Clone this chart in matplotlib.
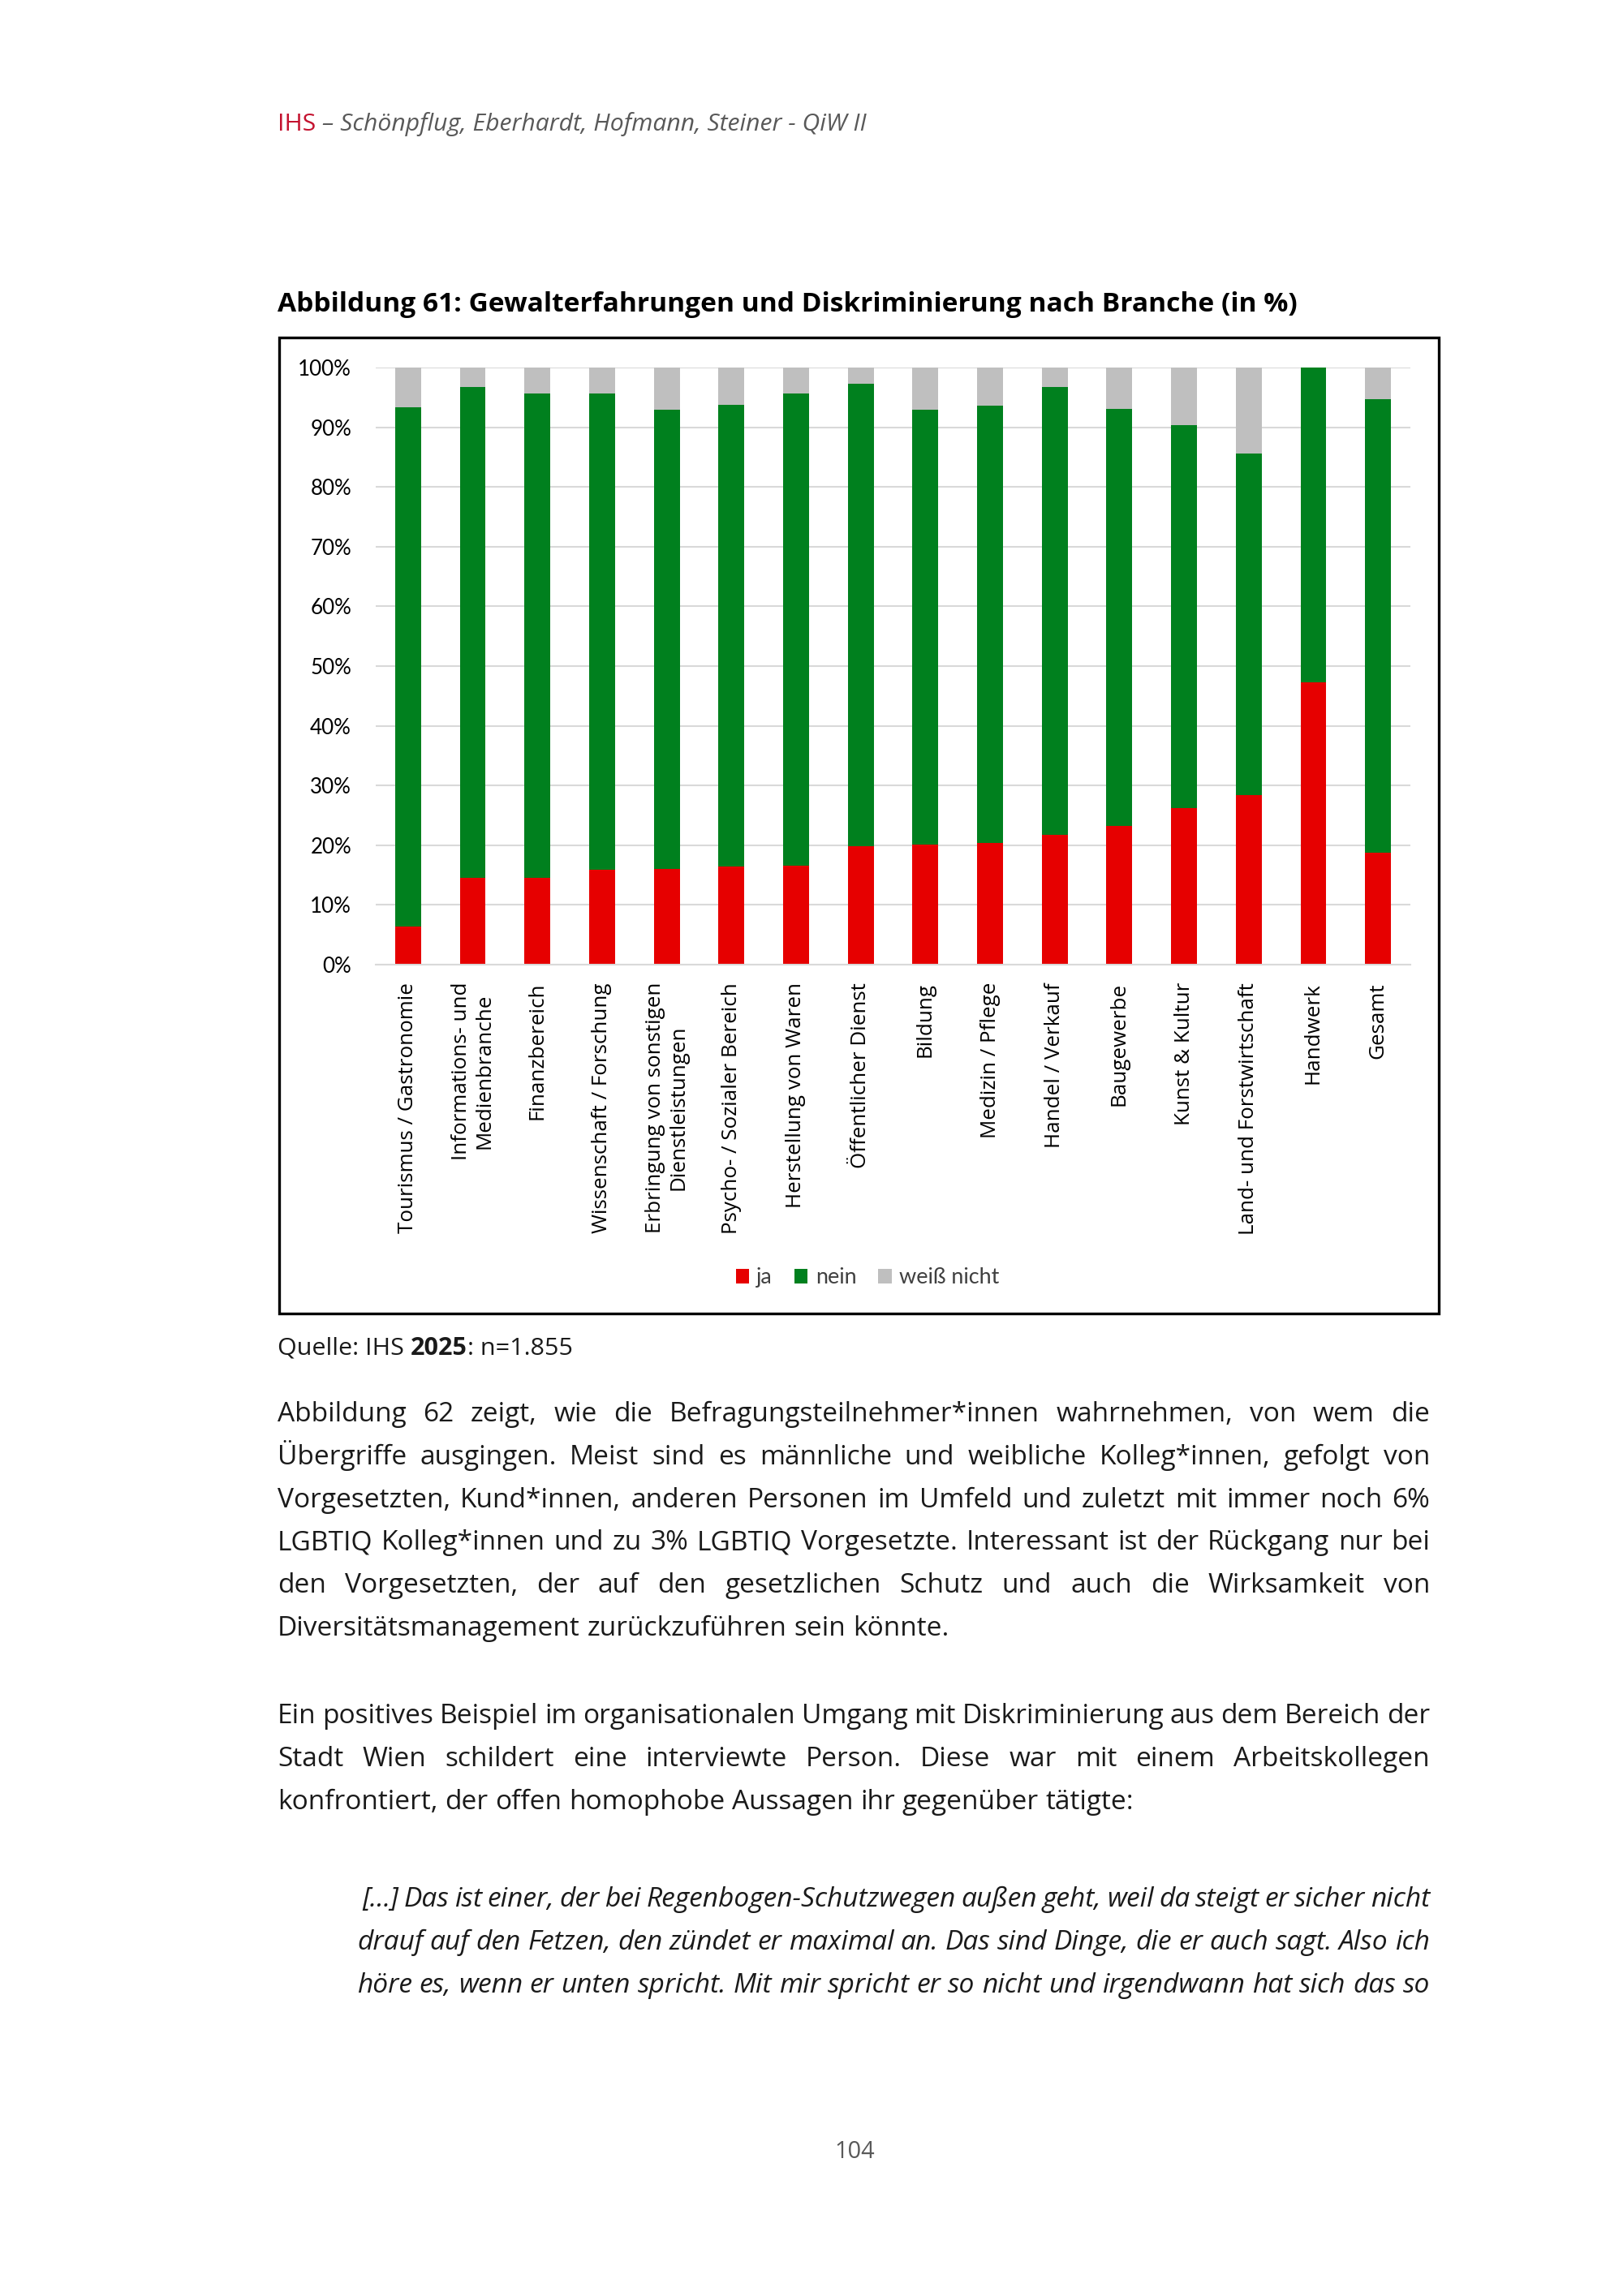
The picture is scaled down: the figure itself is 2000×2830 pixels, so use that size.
# Abbildung 61: Gewalterfahrungen und Diskriminierung nach Branche, laid out as the report page

import matplotlib.pyplot as plt
from matplotlib.patches import Patch, Rectangle

W, H, DPI = 2000, 2830, 200

categories = ['Tourismus / Gastronomie', 'Informations- und\nMedienbranche', 'Finanzbereich',
              'Wissenschaft / Forschung', 'Erbringung von sonstigen\nDienstleistungen',
              'Psycho- / Sozialer Bereich', 'Herstellung von Waren', 'Öffentlicher Dienst',
              'Bildung', 'Medizin / Pflege', 'Handel / Verkauf', 'Baugewerbe', 'Kunst & Kultur',
              'Land- und Forstwirtschaft', 'Handwerk', 'Gesamt']
ja = [6.4, 14.5, 14.5, 15.9, 16.1, 16.5, 16.6, 19.8, 20.1, 20.4, 21.8, 23.2, 26.2, 28.4, 47.3, 18.7]
nein = [87.0, 82.2, 81.2, 79.8, 76.9, 77.2, 79.1, 77.5, 72.9, 73.2, 74.9, 69.9, 64.1, 57.2, 52.7, 76.0]
weiss_nicht = [6.6, 3.3, 4.3, 4.3, 7.0, 6.3, 4.3, 2.7, 7.0, 6.4, 3.3, 6.9, 9.7, 14.4, 0.0, 5.3]
series_names = ['ja', 'nein', 'weiß nicht']
colors = ['#E60000', '#00801E', '#BFBFBF']
y_ticks = list(range(0, 101, 10))

paragraph_1 = [
    'Abbildung 62 zeigt, wie die Befragungsteilnehmer*innen wahrnehmen, von wem die',
    'Übergriffe ausgingen. Meist sind es männliche und weibliche Kolleg*innen, gefolgt von',
    'Vorgesetzten, Kund*innen, anderen Personen im Umfeld und zuletzt mit immer noch 6%',
    'LGBTIQ Kolleg*innen und zu 3% LGBTIQ Vorgesetzte. Interessant ist der Rückgang nur bei',
    'den Vorgesetzten, der auf den gesetzlichen Schutz und auch die Wirksamkeit von',
    'Diversitätsmanagement zurückzuführen sein könnte.',
]
paragraph_2 = [
    'Ein positives Beispiel im organisationalen Umgang mit Diskriminierung aus dem Bereich der',
    'Stadt Wien schildert eine interviewte Person. Diese war mit einem Arbeitskollegen',
    'konfrontiert, der offen homophobe Aussagen ihr gegenüber tätigte:',
]
quote = [
    '[…] Das ist einer, der bei Regenbogen-Schutzwegen außen geht, weil da steigt er sicher nicht',
    'drauf auf den Fetzen, den zündet er maximal an. Das sind Dinge, die er auch sagt. Also ich',
    'höre es, wenn er unten spricht. Mit mir spricht er so nicht und irgendwann hat sich das so',
]


def fx(px):
    return px / W


def fy(py):
    return 1 - py / H


def pt(px):
    # pixel size on the page -> font points at the figure dpi
    return px * 72 / DPI


fig = plt.figure(figsize=(W / DPI, H / DPI), dpi=DPI)
renderer = fig.canvas.get_renderer()

BODY = dict(family='Open Sans', fontsize=pt(33.5), color='#1A1A1A', va='baseline')


def width_of(t):
    return t.get_window_extent(renderer).width


def space_width(**kw):
    a = fig.text(0, 0, 'x x', **kw)
    b = fig.text(0, 0, 'xx', **kw)
    w = width_of(a) - width_of(b)
    a.remove()
    b.remove()
    return w


def justify(line, x0, x1, y, last=False, **kw):
    words = line.split(' ')
    texts = [fig.text(0, fy(y), w, **kw) for w in words]
    widths = [width_of(t) for t in texts]
    sp = space_width(**kw)
    if last or len(words) == 1:
        gap = sp
    else:
        gap = max((x1 - x0 - sum(widths)) / (len(words) - 1), 0.5 * sp)
    x = x0
    for t, w in zip(texts, widths):
        t.set_x(fx(x))
        x += w + gap


# header
t = fig.text(fx(342), fy(161), 'IHS', family='Open Sans', fontsize=pt(30.2), color='#C4122F', va='baseline')
fig.text(fx(342) + width_of(t) / W, fy(161), ' – Schönpflug, Eberhardt, Hofmann, Steiner - QiW II',
         family='Open Sans', style='italic', fontsize=pt(30.2), color='#595959', va='baseline')

# figure caption
fig.text(fx(342), fy(384), 'Abbildung 61: Gewalterfahrungen und Diskriminierung nach Branche (in %)',
         family='Open Sans', weight='bold', fontsize=pt(33.5), color='#000000', va='baseline')

# frame round the chart
fig.patches.append(Rectangle((fx(344), fy(1619)), fx(1773 - 344), (1619 - 416) / H,
                             transform=fig.transFigure, fill=False, edgecolor='black', linewidth=1.2))

ax = fig.add_axes([fx(463), fy(1189), fx(1738 - 463), (1189 - 453) / H])
x = range(len(categories))
bottom = [0] * len(categories)
for name, values, color in zip(series_names, [ja, nein, weiss_nicht], colors):
    ax.bar(x, values, width=0.4, bottom=bottom, color=color, label=name, zorder=2)
    bottom = [b + v for b, v in zip(bottom, values)]

ax.set_xlim(-0.5, len(categories) - 0.5)
ax.set_ylim(0, 100)
ax.set_yticks(y_ticks)
ax.set_yticklabels([f'{v}%' for v in y_ticks], family='Lato', fontsize=pt(26), color='#000000')
ax.set_xticks(list(x))
ax.set_xticklabels(categories, rotation=90, ha='center', va='top', multialignment='center',
                   family='Open Sans', fontsize=pt(26), color='#000000')
ax.tick_params(axis='y', length=0, pad=pt(30))
ax.tick_params(axis='x', length=0, pad=pt(22))
ax.yaxis.grid(True, color='#D9D9D9', linewidth=0.75, zorder=0)
ax.set_axisbelow(True)
for side in ['top', 'right', 'left']:
    ax.spines[side].set_visible(False)
ax.spines['bottom'].set_color('#D9D9D9')
ax.spines['bottom'].set_linewidth(0.75)

handles = [Patch(facecolor=c, edgecolor='none', label=n) for n, c in zip(series_names, colors)]
fig.legend(handles=handles, loc='center', bbox_to_anchor=(fx(1069), fy(1575)), ncol=3, frameon=False,
           prop={'family': 'Lato', 'size': pt(27)}, handlelength=0.6, handleheight=0.6,
           handletextpad=0.35, columnspacing=1.0, labelcolor='#404040')

# source line, with the year in bold (text extents already include the trailing space)
src = dict(family='Open Sans', fontsize=pt(30.5), color='#1A1A1A', va='baseline')
xs = 342
for piece, weight in [('Quelle: IHS ', 'normal'), ('2025', 'bold'), (': n=1.855', 'normal')]:
    t = fig.text(fx(xs), fy(1670), piece, weight=weight, **src)
    xs += width_of(t)

# body text, justified like the page
for i, line in enumerate(paragraph_1):
    justify(line, 342, 1762, 1752 + i * 52.8, last=(i == len(paragraph_1) - 1), **BODY)
for i, line in enumerate(paragraph_2):
    justify(line, 342, 1762, 2124 + i * 52.8, last=(i == len(paragraph_2) - 1), **BODY)
for i, line in enumerate(quote):
    justify(line, 446 if i == 0 else 440, 1762, 2350 + i * 52.8, style='italic', **BODY)

fig.text(fx(1053), fy(2660), '104', family='Open Sans', fontsize=pt(29), color='#595959',
         ha='center', va='baseline')

fig.savefig('out.png', dpi=DPI, facecolor='white')
